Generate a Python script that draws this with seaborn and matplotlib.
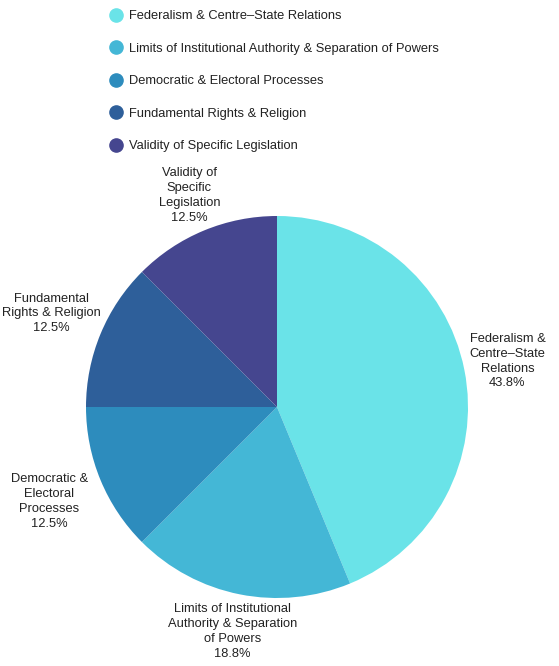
import matplotlib.pyplot as plt
import seaborn as sns
from matplotlib.lines import Line2D
import numpy as np

categories = ['Federalism & Centre–State Relations',
              'Limits of Institutional Authority & Separation of Powers',
              'Democratic & Electoral Processes',
              'Fundamental Rights & Religion',
              'Validity of Specific Legislation']
wrapped = ['Federalism &\nCentre–State\nRelations',
           'Limits of Institutional\nAuthority & Separation\nof Powers',
           'Democratic &\nElectoral\nProcesses',
           'Fundamental\nRights & Religion',
           'Validity of\nSpecific\nLegislation']
counts = [7, 3, 2, 2, 2]
colors = ['#6ae3e8', '#44b7d6', '#2d8cbd', '#2e5f9a', '#45468f']
label_dist = [1.23, 1.2, 1.29, 1.28, 1.2]

sns.set_theme(style='white')
plt.rcParams['font.family'] = ['Liberation Sans', 'DejaVu Sans']

fig = plt.figure(figsize=(5.59, 6.66), dpi=100)
ax = fig.add_axes([86 / 559, 68 / 666, 382 / 559, 382 / 666])

wedges, _ = ax.pie(counts, colors=colors, startangle=90, counterclock=False,
                   radius=1, wedgeprops=dict(linewidth=0))
ax.set_xlim(-1, 1)
ax.set_ylim(-1, 1)
ax.set_aspect('auto')
ax.axis('off')

total = sum(counts)
for w, txt, c, d in zip(wedges, wrapped, counts, label_dist):
    ang = np.deg2rad((w.theta1 + w.theta2) / 2)
    ax.text(d * np.cos(ang), d * np.sin(ang), f'{txt}\n{100 * c / total:.1f}%',
            ha='center', va='center', fontsize=9.25, color='#222222',
            linespacing=1.32, clip_on=False)

handles = [Line2D([], [], marker='o', linestyle='', markersize=9.5,
                  markerfacecolor=col, markeredgecolor=col) for col in colors]
fig.legend(handles, categories, loc='upper left', bbox_to_anchor=(110 / 559, 1 - 10 / 666),
           frameon=False, fontsize=9.25, labelspacing=1.6, handlelength=1.0,
           handletextpad=0.5, borderaxespad=0, borderpad=0, labelcolor='#222222')

fig.savefig('out.png', dpi=100)
